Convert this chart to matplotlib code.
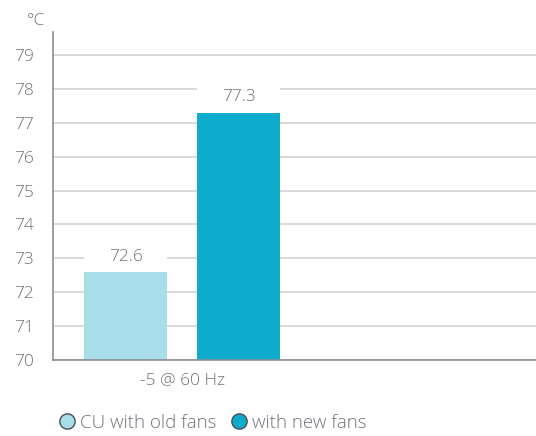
import matplotlib
matplotlib.use('Agg')
import matplotlib.pyplot as plt
from matplotlib.lines import Line2D

# data
categories = ['-5 @ 60 Hz']
series_names = ['CU with old fans', 'with new fans']
values_old = [72.6]
values_new = [77.3]
colors = ['#a8deea', '#0eaccc']
yticks = list(range(70, 80))

plt.rcParams['font.family'] = ['Open Sans', 'DejaVu Sans']
plt.rcParams['font.weight'] = 'light'
txt = '#6f7379'
fs = 12.5

fig = plt.figure(figsize=(5.36, 4.36), dpi=100)
ax = fig.add_axes([53/536, 1-360/436, (536-53)/536, (360-32)/436])

w = 0.735
off = 0.5
x0 = 0
ax.bar([x0 - off], values_old, width=w, color=colors[0], zorder=2)
ax.bar([x0 + off], values_new, width=w, color=colors[1], zorder=2)

# white label area above each bar (breaks the gridlines like the original)
for xpos, v in [(x0 - off, values_old[0]), (x0 + off, values_new[0])]:
    ax.bar([xpos], [0.8], bottom=v, width=w, color='white', zorder=1.5)
    ax.annotate(f'{v}', (xpos, v), xytext=(0, 11), textcoords='offset points',
                ha='center', va='center', fontsize=fs, color=txt, zorder=3)

ax.set_xlim(-(182-53)/113, (536-182)/113)
ax.set_ylim(70, 79.68)
ax.set_yticks(yticks)
ax.set_yticklabels([str(t) for t in yticks])
ax.set_xticks([x0])
ax.set_xticklabels(categories)
ax.tick_params(axis='y', length=0, pad=14, labelsize=fs, labelcolor=txt)
ax.tick_params(axis='x', length=0, pad=9, labelsize=fs, labelcolor=txt)

ax.grid(axis='y', color='#cfd0d2', linewidth=1.1, zorder=0)
ax.set_axisbelow(True)
for s in ['top', 'right']:
    ax.spines[s].set_visible(False)
ax.spines['left'].set_color('#8a8d92')
ax.spines['bottom'].set_color('#8a8d92')
ax.spines['left'].set_linewidth(1.2)
ax.spines['bottom'].set_linewidth(1.2)

fig.text(27/536, 1-21/436, '°C', fontsize=fs, color=txt,
         va='center', ha='left')

handles = [Line2D([], [], marker='o', linestyle='none', markersize=11,
                  markerfacecolor=c, markeredgecolor='#4a4f55', markeredgewidth=1.0)
           for c in colors]
leg = fig.legend(handles, series_names, loc='center left',
                 bbox_to_anchor=(50/536, 1-423/436), ncol=2, frameon=False,
                 handletextpad=0.2, columnspacing=0.7, fontsize=13.5,
                 handlelength=1.0, borderaxespad=0)
for t in leg.get_texts():
    t.set_color(txt)

fig.savefig('out.png', dpi=100)
